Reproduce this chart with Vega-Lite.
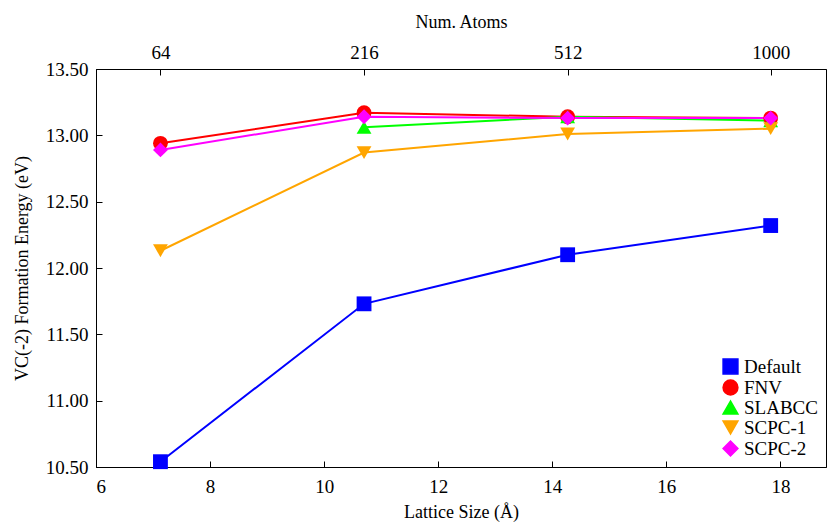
{
  "$schema": "https://vega.github.io/schema/vega-lite/v6.json",
  "autosize": "none",
  "width": 730,
  "height": 398,
  "padding": {"left": 96, "top": 69, "right": 1, "bottom": 57},
  "config": {
    "font": "Liberation Serif",
    "view": {"stroke": "black", "strokeWidth": 1},
    "axis": {"grid": false, "labelFont": "Liberation Serif", "titleFont": "Liberation Serif", "labelFontSize": 19, "titleFontSize": 18, "titleFontWeight": "normal", "labelColor": "black", "titleColor": "black", "domainColor": "black", "tickColor": "black", "tickSize": -6, "labelPadding": 16},
    "legend": {"labelFont": "Liberation Serif", "labelFontSize": 19, "labelColor": "black"}
  },
  "data": {"values": [
    {"series": "Default", "lattice": 7.13, "energy": 10.54},
    {"series": "Default", "lattice": 10.7, "energy": 11.73},
    {"series": "Default", "lattice": 14.27, "energy": 12.10},
    {"series": "Default", "lattice": 17.83, "energy": 12.32},
    {"series": "FNV", "lattice": 7.13, "energy": 12.94},
    {"series": "FNV", "lattice": 10.7, "energy": 13.17},
    {"series": "FNV", "lattice": 14.27, "energy": 13.14},
    {"series": "FNV", "lattice": 17.83, "energy": 13.13},
    {"series": "SLABCC", "lattice": 10.7, "energy": 13.06},
    {"series": "SLABCC", "lattice": 14.27, "energy": 13.14},
    {"series": "SLABCC", "lattice": 17.83, "energy": 13.11},
    {"series": "SCPC-1", "lattice": 7.13, "energy": 12.13},
    {"series": "SCPC-1", "lattice": 10.7, "energy": 12.87},
    {"series": "SCPC-1", "lattice": 14.27, "energy": 13.01},
    {"series": "SCPC-1", "lattice": 17.83, "energy": 13.05},
    {"series": "SCPC-2", "lattice": 7.13, "energy": 12.89},
    {"series": "SCPC-2", "lattice": 10.7, "energy": 13.14},
    {"series": "SCPC-2", "lattice": 14.27, "energy": 13.13},
    {"series": "SCPC-2", "lattice": 17.83, "energy": 13.13}
  ]},
  "layer": [
    {
      "mark": {"type": "line", "strokeWidth": 2, "point": {"filled": true, "size": 220, "opacity": 1}},
      "encoding": {
        "x": {"field": "lattice", "type": "quantitative", "scale": {"domain": [6, 18.8], "nice": false, "zero": false}, "axis": {"values": [6, 8, 10, 12, 14, 16, 18], "title": "Lattice Size (Å)", "labelPadding": 16, "titlePadding": 7}},
        "y": {"field": "energy", "type": "quantitative", "scale": {"domain": [10.5, 13.5], "nice": false, "zero": false}, "axis": {"values": [10.5, 11, 11.5, 12, 12.5, 13, 13.5], "format": ".2f", "title": "VC(-2) Formation Energy (eV)", "labelPadding": 14, "titlePadding": 14}},
        "color": {"field": "series", "type": "nominal", "scale": {"domain": ["Default", "FNV", "SLABCC", "SCPC-1", "SCPC-2"], "range": ["#0000ff", "#ff0000", "#00ff00", "#ffa500", "#ff00ff"]}, "legend": {"title": null, "orient": "bottom-right", "offset": 8, "symbolSize": 220, "rowPadding": 0, "labelFont": "Liberation Serif", "labelFontSize": 19}},
        "shape": {"field": "series", "type": "nominal", "scale": {"domain": ["Default", "FNV", "SLABCC", "SCPC-1", "SCPC-2"], "range": ["square", "circle", "triangle-up", "triangle-down", "diamond"]}, "legend": {"title": null, "orient": "bottom-right"}},
        "order": {"field": "lattice"}
      }
    },
    {
      "mark": {"type": "point", "opacity": 0},
      "encoding": {
        "x": {"field": "lattice", "type": "quantitative", "scale": {"domain": [6, 18.8], "nice": false, "zero": false}, "axis": {"orient": "top", "values": [7.13, 10.7, 14.27, 17.83], "labelExpr": "datum.value < 8 ? '64' : datum.value < 12 ? '216' : datum.value < 16 ? '512' : '1000'", "title": "Num. Atoms", "labelPadding": 13, "titlePadding": 12}}
      }
    }
  ],
  "resolve": {"scale": {"x": "independent"}}
}
